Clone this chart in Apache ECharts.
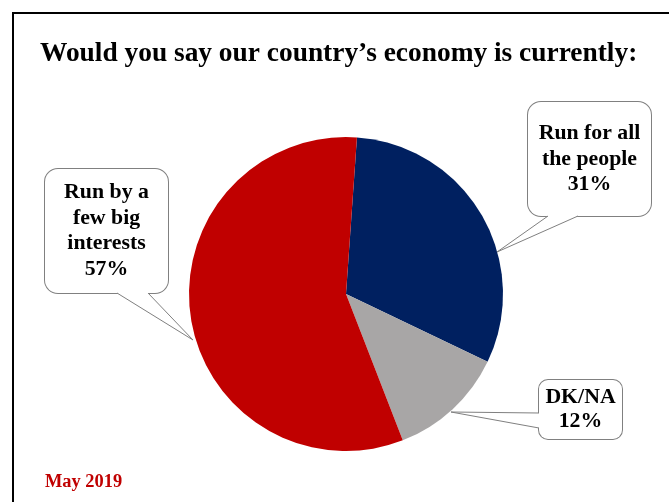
<!DOCTYPE html>
<html>
<head>
<meta charset="utf-8">
<script src="https://cdn.jsdelivr.net/npm/echarts@6/dist/echarts.min.js"></script>
<style>html,body{margin:0;padding:0;background:#fff}#c{width:669px;height:502px}</style>
</head>
<body>
<div id="c"></div>
<script>
const titleText = 'Would you say our country\u2019s economy is currently:';
const dateText = 'May 2019';
const categories = ['Run for all\nthe people', 'DK/NA', 'Run by a\nfew big\ninterests'];
const values = [31, 12, 57];
const colors = ['#002060', '#A8A6A6', '#C00000'];

// callout layout (box center, box size, pointer)
const callouts = [
  { cx: 589.5, cy: 159, w: 123, h: 114, lh: 25.5, r: 13,
    wedge: [[548, 216], [497, 252], [578, 216]], side: 'bottom' },
  { cx: 580.5, cy: 409.5, w: 83, h: 59, lh: 24, r: 9,
    wedge: [[539, 413], [451, 412], [539, 428]], side: 'left' },
  { cx: 106.5, cy: 231, w: 123, h: 124, lh: 25.5, r: 13,
    wedge: [[117, 293], [193, 340], [148, 293]], side: 'bottom' }
];

const serif = '"Liberation Serif", "Times New Roman", serif';

const data = categories.map((n, i) => {
  const c = callouts[i];
  const lines = n.split('\n').length + 1;
  const padV = (c.h - lines * c.lh) / 2;
  return {
    name: n, value: values[i],
    itemStyle: { color: colors[i] },
    label: {
      width: c.w - 2, lineHeight: c.lh,
      padding: [padV, 1, padV, 1],
      borderRadius: c.r
    }
  };
});

const graphics = [
  { type: 'rect', z: 0, silent: true, shape: { x: 13, y: 13, width: 720, height: 600 },
    style: { fill: 'none', stroke: '#000', lineWidth: 2 } }
];
callouts.forEach(c => {
  const w = c.wedge;
  let fillPts;
  if (c.side === 'bottom') {
    fillPts = [[w[0][0] + 0.5, w[0][1] - 2], w[0], w[1], w[2], [w[2][0] - 0.5, w[2][1] - 2]];
  } else {
    fillPts = [[w[0][0] + 2, w[0][1] + 0.5], w[0], w[1], w[2], [w[2][0] + 2, w[2][1] - 0.5]];
  }
  graphics.push({ type: 'polygon', z: 100, silent: true, shape: { points: fillPts },
    style: { fill: '#fff', stroke: null } });
  graphics.push({ type: 'polyline', z: 101, silent: true, shape: { points: w },
    style: { fill: null, stroke: '#808080', lineWidth: 1 } });
});

const chart = echarts.init(document.getElementById('c'), null, { renderer: 'canvas' });
chart.setOption({
  animation: false,
  backgroundColor: '#fff',
  title: [
    { text: titleText, left: 35, top: 35,
      textStyle: { fontFamily: serif, fontWeight: 'bold', fontSize: 27.4, color: '#000' } },
    { text: dateText, left: 40, top: 468,
      textStyle: { fontFamily: serif, fontWeight: 'bold', fontSize: 18.4, color: '#C00000' } }
  ],
  graphic: graphics,
  series: [{
    type: 'pie',
    center: [346, 294],
    radius: [0, 157],
    startAngle: 86,
    clockwise: true,
    avoidLabelOverlap: false,
    silent: true,
    data: data,
    label: {
      show: true,
      formatter: '{b}\n{c}%',
      fontFamily: serif, fontWeight: 'bold', fontSize: 21.8, color: '#000',
      backgroundColor: '#fff', borderColor: '#808080', borderWidth: 1,
      align: 'center'
    },
    labelLine: { show: false },
    labelLayout: function (p) {
      const c = callouts[p.dataIndex];
      return { x: c.cx, y: c.cy, align: 'center', verticalAlign: 'middle' };
    }
  }]
});
</script>
</body>
</html>
